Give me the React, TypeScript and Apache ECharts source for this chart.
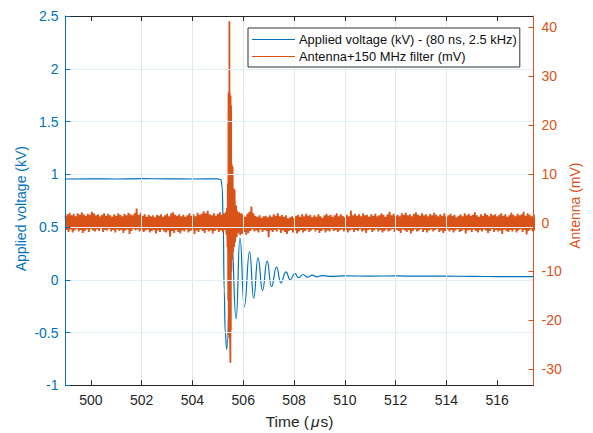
import React, { useEffect, useRef } from "react";
import * as echarts from "echarts";

const FONT = "'Liberation Sans', Arial, sans-serif";
const BLUE = "#0072BD";
const ORANGE = "#D95319";
const DARK = "#262626";

const xTicks = [500, 502, 504, 506, 508, 510, 512, 514, 516];
const leftTicks = [-1, -0.5, 0, 0.5, 1, 1.5, 2, 2.5];
const rightTicks = [-30, -20, -10, 0, 10, 20, 30, 40];
const nameVoltage = "Applied voltage (kV) - (80 ns, 2.5 kHz)";
const nameAntenna = "Antenna+150 MHz filter (mV)";

const voltageTimes = [
  499, 500, 501, 502, 503, 504, 505, 505.12, 505.17, 505.21, 505.25, 505.29, 505.35, 505.53, 505.72, 505.87,
  506.04, 506.25, 506.41, 506.58, 506.76, 506.94, 507.11, 507.31, 507.48, 507.68, 507.85, 508.03, 508.17,
  508.36, 508.52, 508.72, 508.9, 509.1, 509.4, 510, 511, 512, 513, 514, 515, 516, 517.43,
];
const voltageValues = [
  0.955, 0.957, 0.955, 0.958, 0.957, 0.955, 0.957, 0.95, 0.88, 0.55, -0.1, -0.5, -0.66, 0.42, -0.37, 0.397,
  -0.255, 0.265, -0.175, 0.208, -0.1, 0.176, -0.066, 0.12, -0.03, 0.075, 0.0, 0.06, 0.02,
  0.05, 0.025, 0.045, 0.028, 0.04, 0.033, 0.037, 0.035, 0.037, 0.034, 0.035, 0.032, 0.03, 0.03,
];

const preStart = 499;
const noiseStep = 0.08;
const preHi = [
  1.4, 1.7, 2.0, 1.5, 1.8, 1.3, 1.9, 1.6, 2.1, 1.7, 1.4, 1.8, 1.6, 2.2, 1.9, 1.5, 1.7, 1.3, 1.6, 1.9,
  1.4, 1.8, 1.5, 1.2, 1.7, 1.4, 1.9, 1.6, 1.3, 1.8, 1.5, 2.0, 1.7, 1.5, 1.9, 2.9, 1.6, 2.0, 1.4, 1.7,
  1.2, 1.6, 1.3, 1.5, 1.1, 1.6, 1.4, 1.7, 1.2, 1.5, 1.8, 1.3, 1.9, 2.1, 1.6, 1.4, 1.7, 1.3, 1.6, 1.2,
  1.5, 1.9, 1.4, 1.7, 1.3, 2.0, 1.6, 1.8, 2.3, 1.9, 2.4, 1.7, 1.5, 1.9, 1.4, 1.8, 2.1, 1.6, 1.9,
];
const preLo = [
  -1.5, -1.9, -1.4, -2.0, -1.6, -1.3, -1.8, -1.5, -2.1, -1.7, -1.4, -1.9, -1.3, -1.6, -1.8, -1.4, -1.7, -1.2, -1.9, -1.5,
  -1.6, -1.3, -1.8, -1.5, -2.0, -1.4, -1.7, -1.5, -2.1, -1.6, -1.4, -2.3, -1.7, -1.3, -1.6, -1.4, -1.8, -1.5, -1.9, -1.6,
  -1.4, -2.0, -1.7, -1.5, -2.2, -1.6, -1.9, -1.4, -1.8, -2.0, -1.6, -2.9, -1.7, -2.1, -1.5, -1.9, -2.2, -1.6, -1.8, -1.4,
  -2.0, -1.7, -1.5, -2.3, -1.6, -1.9, -1.4, -1.7, -2.1, -1.5, -1.8, -1.6, -2.2, -1.7, -1.4, -1.9, -1.6, -2.0, -1.5,
];

const burstTimes = [
  505.32, 505.34, 505.36, 505.38, 505.395, 505.41, 505.42, 505.43, 505.44, 505.45, 505.455, 505.46, 505.47, 505.48,
  505.495, 505.5, 505.51, 505.52, 505.53, 505.545, 505.56, 505.58, 505.6, 505.62, 505.64, 505.66, 505.68, 505.72, 505.74,
];
const burstValues = [
  2.2, -2.5, 3.0, -5.0, 8.0, -16.0, 26.5, -23.0, 26.8, -23.5, 41.2, -23.6, 26.6, -23.4,
  -28.7, 26.0, -22.0, 24.0, -10.0, 12.0, -7.5, 11.5, -6.0, 7.0, -5.0, 6.8, -4.0, 3.5, -3.0,
];

const postStart = 505.76;
const postHi = [
  2.4, 2.1, 1.9, 1.7, 1.2, 1.8, 2.2, 3.3, 1.9, 1.4, 1.2, 1.5, 1.0, 1.3,
  1.4, 1.1, 1.5, 1.2, 1.7, 1.4, 1.9, 1.3, 1.6, 1.2, 1.5, 0.9, 1.1, 1.3, 1.0, 1.4, 1.6, 1.2, 1.7, 1.3,
  1.8, 1.4, 1.6, 1.1, 1.5, 1.2, 1.7, 1.3, 1.0, 1.5, 1.8, 1.4, 1.6, 1.2, 1.5, 1.9, 1.3, 1.7, 1.4, 1.1,
  1.6, 1.3, 2.4, 1.5, 1.8, 1.4, 1.7, 1.3, 1.9, 1.5, 1.6, 1.2, 1.7, 1.4, 1.8, 1.3, 1.5, 1.9, 1.6, 1.2,
  1.7, 2.2, 1.5, 1.8, 1.4, 1.6, 1.3, 1.9, 1.6, 2.0, 1.5, 1.7, 1.3, 1.8, 2.1, 1.6, 1.4, 1.9, 1.5, 1.7,
  1.3, 1.8, 1.5, 2.0, 1.6, 1.3, 1.7, 1.4, 1.9, 1.2, 1.5, 1.8, 1.4, 1.6, 1.1, 1.4, 1.7, 1.3, 1.9, 1.5,
  1.8, 1.4, 1.6, 2.1, 1.5, 1.2, 1.7, 1.4, 1.9, 1.6, 1.3, 1.8, 1.5, 1.7, 1.3, 1.6, 1.9, 1.4, 1.7, 1.2,
  1.5, 2.0, 1.6, 1.3, 1.8, 1.5, 1.7, 2.2, 1.4, 1.9, 1.6, 1.3, 1.7,
];
const postLo = [
  -2.2, -2.6, -2.3, -1.9, -2.5, -2.1, -1.7, -1.4, -1.8, -1.6, -2.0, -1.4, -1.9, -1.5,
  -1.7, -3.0, -1.6, -1.9, -1.5, -1.8, -1.4, -2.1, -1.6, -1.9, -2.3, -1.7, -1.5, -2.0, -1.6, -2.2, -1.8, -1.5, -2.0, -1.7,
  -1.4, -1.9, -1.6, -1.3, -1.8, -1.5, -2.1, -1.7, -1.4, -2.0, -1.6, -1.8, -1.3, -1.7, -1.5, -1.9, -1.6, -1.4, -1.8, -1.5,
  -2.0, -1.6, -1.4, -1.9, -1.5, -1.7, -1.3, -1.8, -1.6, -2.1, -1.5, -1.4, -1.9, -1.6, -1.3, -1.8, -1.5, -2.0, -1.7, -1.4,
  -1.8, -1.6, -1.3, -1.9, -1.5, -1.7, -2.1, -1.4, -1.6, -1.9, -1.5, -2.2, -1.7, -1.4, -1.8, -1.6, -1.3, -1.9, -1.5, -2.0,
  -1.6, -1.4, -1.8, -1.5, -1.3, -1.9, -1.6, -2.1, -1.7, -1.4, -1.8, -1.5, -2.0, -1.6, -1.3, -1.9, -1.7, -1.4, -2.2, -1.6,
  -1.5, -1.9, -1.4, -1.7, -2.0, -1.5, -1.8, -1.4, -1.6, -2.1, -1.7, -1.3, -1.9, -1.5, -1.8, -1.6, -2.3, -1.4, -1.7, -1.9,
  -1.5, -1.8, -1.4, -2.0, -1.6, -1.3, -1.9, -1.5, -2.4, -1.7, -1.4, -1.8, -1.6,
];

function zigzag(start: number, hi: number[], lo: number[]) {
  const out: [number, number][] = [];
  hi.forEach((h, i) => {
    out.push([start + i * noiseStep, h]);
    out.push([start + (i + 0.5) * noiseStep, lo[i]]);
  });
  return out;
}

const voltagePairs = voltageTimes.map((t, i) => [t, voltageValues[i]]);
const antennaPairs = [
  ...zigzag(preStart, preHi, preLo),
  ...burstTimes.map((t, i) => [t, burstValues[i]]),
  ...zigzag(postStart, postHi, postLo),
];

export default function App() {
  const ref = useRef<HTMLDivElement>(null);
  useEffect(() => {
    const chart = echarts.init(ref.current!, null, { renderer: "svg" });
    chart.setOption({
      animation: false,
      backgroundColor: "#fff",
      textStyle: { fontFamily: FONT },
      grid: { left: 65.5, top: 16, width: 468, height: 369.3, containLabel: false, outerBoundsMode: "none" },
      legend: {
        left: 248,
        top: 28,
        orient: "vertical",
        icon: "rect",
        itemWidth: 43,
        itemHeight: 1,
        itemGap: 4,
        padding: [5, 3, 4, 4],
        backgroundColor: "#fff",
        borderColor: "#333",
        borderWidth: 1,
        z: 20,
        data: [nameVoltage, nameAntenna],
        textStyle: { fontFamily: FONT, fontSize: 12.9, color: "#111", padding: [0, 0, 0, -1] },
      },
      xAxis: [
        {
          type: "value",
          min: 499,
          max: 517.43,
          position: "bottom",
          name: "Time ({i|μ}s)",
          nameLocation: "middle",
          nameGap: 28,
          nameTextStyle: {
            fontFamily: FONT,
            fontSize: 15.5,
            color: DARK,
            rich: { i: { fontStyle: "italic", fontSize: 15.5, fontFamily: FONT, color: DARK, padding: [0, 1, 0, 2] } },
          },
          axisLine: { show: true, onZero: false, lineStyle: { color: DARK, width: 1 } },
          axisTick: { show: true, inside: true, length: 5, customValues: xTicks, lineStyle: { color: DARK, width: 1 } },
          axisLabel: { fontFamily: FONT, fontSize: 14, color: DARK, margin: 8, customValues: xTicks },
          splitLine: { show: true, showMinLine: false, showMaxLine: false, lineStyle: { color: "#e6e6e6", width: 1 } },
          z: 5,
        },
        {
          type: "value",
          min: 499,
          max: 517.43,
          position: "top",
          axisLine: { show: true, onZero: false, lineStyle: { color: DARK, width: 1 } },
          axisTick: { show: true, inside: true, length: 5, customValues: xTicks, lineStyle: { color: DARK, width: 1 } },
          axisLabel: { show: false, customValues: xTicks },
          splitLine: { show: false },
          z: 5,
        },
      ],
      yAxis: [
        {
          type: "value",
          min: -1,
          max: 2.5,
          position: "left",
          name: "Applied voltage (kV)",
          nameLocation: "middle",
          nameGap: 38,
          nameMoveOverlap: false,
          nameTextStyle: { fontFamily: FONT, fontSize: 14, color: BLUE, padding: [0, 16, 0, 0] },
          axisLine: { show: true, onZero: false, lineStyle: { color: BLUE, width: 1 } },
          axisTick: { show: true, inside: true, length: 5, customValues: leftTicks, lineStyle: { color: BLUE, width: 1 } },
          axisLabel: { fontFamily: FONT, fontSize: 14, color: BLUE, margin: 7, customValues: leftTicks },
          splitLine: { show: true, showMinLine: false, showMaxLine: false, lineStyle: { color: "#e3f0f8", width: 1 } },
          z: 6,
        },
        {
          type: "value",
          min: -33.3,
          max: 42.3,
          position: "right",
          name: "Antenna (mV)",
          nameLocation: "middle",
          nameGap: 34,
          nameMoveOverlap: false,
          nameRotate: 90,
          nameTextStyle: { fontFamily: FONT, fontSize: 14, color: ORANGE, padding: [0, 10, 0, 0] },
          axisLine: { show: true, onZero: false, lineStyle: { color: ORANGE, width: 1 } },
          axisTick: { show: true, inside: true, length: 5, customValues: rightTicks, lineStyle: { color: ORANGE, width: 1 } },
          axisLabel: { fontFamily: FONT, fontSize: 14, color: ORANGE, margin: 8, customValues: rightTicks },
          splitLine: { show: false },
          z: 6,
        },
      ],
      series: [
        {
          name: nameVoltage,
          type: "line",
          xAxisIndex: 0,
          yAxisIndex: 0,
          data: voltagePairs,
          symbol: "none",
          smooth: 0.5,
          smoothMonotone: "x",
          lineStyle: { color: BLUE, width: 1.2 },
          itemStyle: { color: BLUE },
          z: 2,
        },
        {
          name: nameAntenna,
          type: "line",
          xAxisIndex: 0,
          yAxisIndex: 1,
          data: antennaPairs,
          symbol: "none",
          lineStyle: { color: ORANGE, width: 1.8, join: "bevel" },
          itemStyle: { color: ORANGE },
          z: 3,
        },
      ],
    });
    return () => chart.dispose();
  }, []);
  return <div ref={ref} style={{ position: "absolute", left: 0, top: 0, width: 593, height: 433 }} />;
}
